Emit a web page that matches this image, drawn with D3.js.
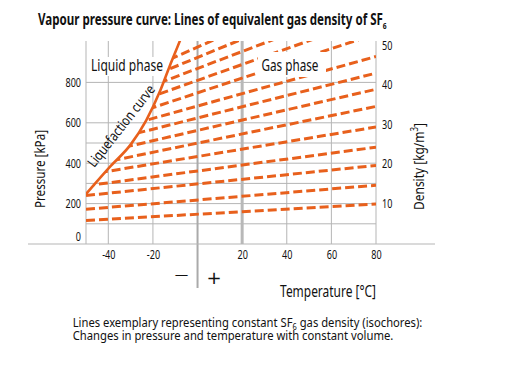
<!DOCTYPE html>
<html>
<head>
<meta charset="utf-8">
<script src="https://cdn.jsdelivr.net/npm/d3@7"></script>
<style>
body { margin: 0; background: #fff; }
svg { display: block; font-family: "Noto Sans", "Open Sans", sans-serif; fill: #111; }
</style>
</head>
<body>
<svg id="chart" width="506" height="377"></svg>
<script>
// ticks and grid
var tempTicks = [-40, -20, 20, 40, 60, 80];
var tempGrid = [-50, -40, -20, 40, 60, 80];
var pressureTicks = [0, 200, 400, 600, 800];
var pressureGrid = [100, 200, 300, 400, 500, 600, 800];
var densityTicks = [10, 20, 30, 40, 50];

// liquefaction curve (vapour pressure)
var curveTemp = [-50, -39, -30, -23, -17, -12.5, -8, -6];
var curvePressure = [247, 385, 492, 612, 752, 880, 1003, 1060];

// isochores: density, pressure at -50 °C and at 80 °C
var isoDensity = [10, 15, 20, 25, 30, 35, 40, 45, 50, 55, 60, 65, 70, 75];
var isoPressureStart = [116, 172, 240, 288, 342, 386, 435, 485, 530, 566, 614, 659, 697, 732];
var isoPressureEnd = [198, 291, 389, 479, 579, 681, 766, 846, 928, 1040, 1124, 1205, 1286, 1363];

var orange = "#e8601c";
var gridColor = "#b5b5b5";

var svg = d3.select("#chart");

var x = d3.scaleLinear().domain([-50, 80]).range([86, 376]);
var y = d3.scaleLinear().domain([0, 1000]).range([244, 42]);
var yDensity = d3.scaleLinear().domain([0, 50]).range([243, 45]);
var plotTop = 41;

// the original uses a condensed face, so texts are squeezed to the widths seen there
function addText(px, py, opt, build) {
    var g = svg.append("g");
    var t = g.append("text")
        .attr("font-size", opt.size)
        .attr("text-anchor", opt.anchor || "start");
    if (opt.bold) t.attr("font-weight", "bold");
    if (typeof build === "string") t.text(build); else build(t);
    var s = opt.width / t.node().getBBox().width;
    g.attr("transform", "translate(" + px + "," + py + ") rotate(" + (opt.rotate || 0) + ") scale(" + s + ",1)");
    return g;
}

var defs = svg.append("defs");
defs.append("clipPath").attr("id", "plotClip")
    .append("rect")
    .attr("x", x(-50)).attr("y", plotTop)
    .attr("width", x(80) - x(-50)).attr("height", y(0) - plotTop);

var curveLine = d3.line()
    .x(d => x(d[0]))
    .y(d => y(d[1]))
    .curve(d3.curveMonotoneX);
var curveData = curveTemp.map((t, i) => [t, curvePressure[i]]);

// gas region: right of / below the liquefaction curve
defs.append("clipPath").attr("id", "gasClip")
    .append("path")
    .attr("d", curveLine(curveData) +
        "L" + (x(80) + 5) + "," + y(1060) +
        "L" + (x(80) + 5) + "," + y(0) +
        "L" + x(-50) + "," + y(0) + "Z");

// grid
svg.append("g").selectAll("line")
    .data(pressureGrid).enter().append("line")
    .attr("x1", x(-50)).attr("x2", x(80))
    .attr("y1", d => y(d)).attr("y2", d => y(d))
    .attr("stroke", gridColor).attr("stroke-width", 1);

svg.append("g").selectAll("line")
    .data(tempGrid).enter().append("line")
    .attr("x1", d => x(d)).attr("x2", d => x(d))
    .attr("y1", plotTop).attr("y2", y(0))
    .attr("stroke", gridColor).attr("stroke-width", 1);

// 20 °C reference line
svg.append("line")
    .attr("x1", x(20)).attr("x2", x(20))
    .attr("y1", plotTop).attr("y2", y(0))
    .attr("stroke", "#b8b8b8").attr("stroke-width", 3);

// 0 °C line, goes down past the axis
svg.append("line")
    .attr("x1", x(0)).attr("x2", x(0))
    .attr("y1", plotTop).attr("y2", 288)
    .attr("stroke", "#aaaaaa").attr("stroke-width", 2);

// x axis line
svg.append("line")
    .attr("x1", 28).attr("x2", 435)
    .attr("y1", y(0)).attr("y2", y(0))
    .attr("stroke", gridColor).attr("stroke-width", 1.2);

// Liquid phase label
svg.append("rect").attr("x", 89).attr("y", 57).attr("width", 76).attr("height", 19).attr("fill", "#fff");
addText(91, 71.3, {size: 16, width: 72}, "Liquid phase");

// isochores
var plot = svg.append("g").attr("clip-path", "url(#plotClip)");
var gas = plot.append("g").attr("clip-path", "url(#gasClip)");
var isoLine = d3.line().x(d => x(d[0])).y(d => y(d[1]));

gas.selectAll(".iso")
    .data(isoDensity.map((d, i) => [[-50, isoPressureStart[i]], [80, isoPressureEnd[i]]]))
    .enter().append("path")
    .attr("class", "iso")
    .attr("d", isoLine)
    .attr("fill", "none")
    .attr("stroke", orange)
    .attr("stroke-width", 3)
    .attr("stroke-dasharray", "9,4");

// liquefaction curve
plot.append("path")
    .attr("d", curveLine(curveData))
    .attr("fill", "none")
    .attr("stroke", orange)
    .attr("stroke-width", 2.6);

// Gas phase label
svg.append("rect").attr("x", 258).attr("y", 52).attr("width", 68).attr("height", 25).attr("fill", "#fff");
addText(261.5, 71, {size: 16, width: 57}, "Gas phase");

addText(125, 129, {size: 14, width: 100, anchor: "middle", rotate: -52}, "Liquefaction curve");

// axes (labels only)
var axisLeft = svg.append("g")
    .attr("transform", "translate(" + x(-50) + ",0)")
    .call(d3.axisLeft(y).tickValues(pressureTicks).tickSize(0).tickPadding(5));
var axisRight = svg.append("g")
    .attr("transform", "translate(" + x(80) + ",0)")
    .call(d3.axisRight(yDensity).tickValues(densityTicks).tickSize(0).tickPadding(6));
var axisBottom = svg.append("g")
    .attr("transform", "translate(0," + y(0) + ")")
    .call(d3.axisBottom(x).tickValues(tempTicks).tickSize(0).tickPadding(6)
        .tickFormat(d => d < 0 ? "-" + Math.abs(d) : d));

var tickScale = 0.72;
[axisLeft, axisRight, axisBottom].forEach(function(a) {
    a.select(".domain").remove();
    a.attr("font-family", null).attr("font-size", 12.6);
    a.selectAll("text")
        .attr("fill", "#111")
        .attr("x", function() { return (+d3.select(this).attr("x") || 0) / tickScale; })
        .attr("transform", "scale(" + tickScale + ",1)");
});
axisLeft.selectAll(".tick").filter(d => d === 0).select("text").attr("dy", "-0.25em");

// axis titles
addText(44.5, 169, {size: 15, width: 78, anchor: "middle", rotate: -90}, "Pressure [kPa]");

addText(423.5, 166.5, {size: 15, width: 87, anchor: "middle", rotate: -90}, function(t) {
    t.append("tspan").text("Density [kg/m");
    t.append("tspan").attr("font-size", 10).attr("dy", -6).text("3");
    t.append("tspan").attr("dy", 6).text("]");
});

addText(376, 296.7, {size: 16, width: 96, anchor: "end"}, "Temperature [°C]");

svg.append("text").attr("x", 181.5).attr("y", 279).attr("text-anchor", "middle")
    .attr("font-family", "DejaVu Sans").attr("font-size", 13.5).text("—");
svg.append("text").attr("x", 214).attr("y", 283.5).attr("text-anchor", "middle")
    .attr("font-family", "DejaVu Sans").attr("font-size", 18).text("+");

// title
addText(38, 25, {size: 15.5, width: 349, bold: true}, function(t) {
    t.append("tspan").text("Vapour pressure curve: Lines of equivalent gas density of SF");
    t.append("tspan").attr("font-size", 9).attr("dy", 4).text("6");
});

// note below
addText(72.7, 326.6, {size: 13.5, width: 350}, function(t) {
    t.append("tspan").text("Lines exemplary representing constant SF");
    t.append("tspan").attr("font-size", 9).attr("dy", 3).text("6");
    t.append("tspan").attr("dy", -3).text(" gas density (isochores):");
});
addText(72.7, 340.2, {size: 13.5, width: 321}, "Changes in pressure and temperature with constant volume.");
</script>
</body>
</html>
